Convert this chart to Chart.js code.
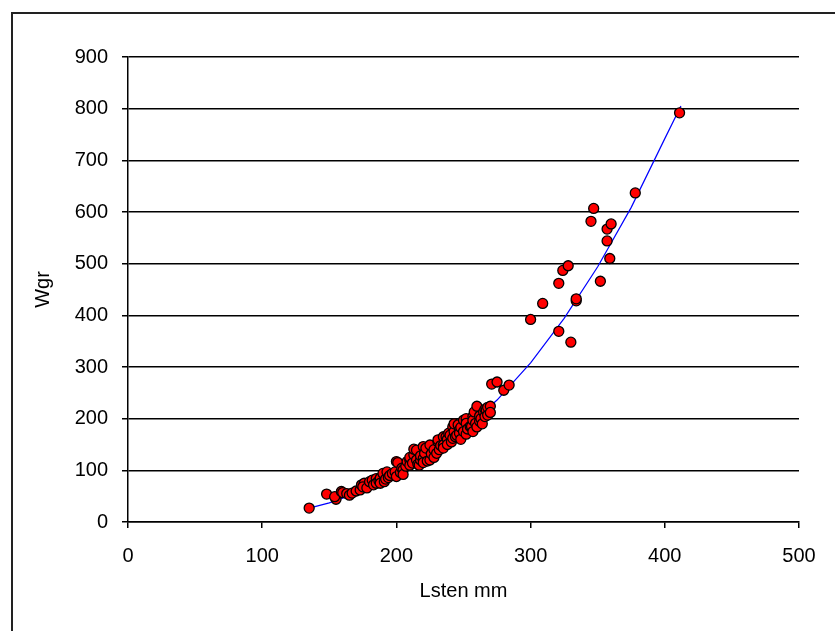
<!DOCTYPE html>
<html>
<head>
<meta charset="utf-8">
<script src="https://cdn.jsdelivr.net/npm/chart.js@4/dist/chart.umd.min.js"></script>
<style>
  html, body { margin: 0; padding: 0; background: #fff; overflow: hidden; }
  #wrap { position: relative; width: 835px; height: 631px; }
  #frame { position: absolute; left: 11px; top: 12px; width: 900px; height: 700px;
           border: 2px solid #222; box-sizing: border-box; }
  canvas { position: absolute; left: 0; top: 0; }
</style>
</head>
<body>
<div id="wrap">
  <div id="frame"></div>
  <canvas id="chart" width="835" height="631"></canvas>
</div>
<script>
'use strict';

// Observed fish: standard length (mm) and weight (g)
const lengthMm = [
  135, 148, 155, 154, 159, 160, 163, 165, 167, 170, 173, 174, 176, 175, 178, 180,
  182, 183, 185, 185, 187, 188, 188, 190, 191, 192, 193, 194, 195, 197, 199, 200,
  200, 201, 203, 204, 205, 205, 207, 208, 210, 210, 210, 212, 213, 213, 215, 215,
  216, 217, 218, 218, 220, 220, 220, 221, 222, 223, 225, 225, 226, 228, 228, 230,
  231, 231, 232, 233, 235, 235, 235, 237, 238, 238, 239, 240, 241, 242, 242, 243,
  243, 244, 245, 246, 247, 247, 248, 248, 250, 250, 252, 252, 252, 253, 255, 256,
  257, 257, 257, 258, 259, 260, 260, 262, 262, 263, 264, 265, 266, 266, 267, 268,
  268, 270, 270, 271, 275, 280, 284, 300, 309, 321, 321, 324, 328, 330, 334, 334,
  345, 347, 352, 357, 357, 359, 360, 378, 411,
];
const weightGr = [
  27, 54, 44, 49, 59, 57, 55, 52, 56, 60, 62, 72, 75, 68, 66, 78,
  81, 72, 84, 75, 80, 85, 75, 94, 78, 83, 97, 86, 90, 94, 97, 88,
  117, 115, 96, 104, 101, 92, 108, 117, 120, 110, 125, 114, 130, 141, 139, 120,
  112, 110, 120, 128, 123, 146, 115, 133, 143, 118, 149, 120, 132, 140, 125, 133,
  155, 159, 140, 148, 165, 149, 143, 165, 160, 150, 172, 168, 155, 184, 162, 175,
  190, 165, 168, 188, 178, 172, 183, 160, 197, 175, 200, 191, 170, 180, 185, 185,
  204, 175, 197, 213, 191, 224, 184, 195, 205, 200, 190, 213, 204, 218, 217, 207,
  222, 224, 212, 267, 271, 255, 265, 392, 423, 462, 369, 487, 496, 348, 428, 432,
  582, 607, 466, 544, 567, 510, 577, 637, 792,
];

// Fitted length-weight curve
const trendLength = [135, 150, 175, 200, 225, 250, 275, 300, 325, 350, 375, 400, 412];
const trendWeight = [27, 37, 60, 90, 128, 177, 236, 308, 394, 494, 609, 742, 805];

const xTicks = [0, 100, 200, 300, 400, 500];
const yTicks = [0, 100, 200, 300, 400, 500, 600, 700, 800, 900];

const FONT = { family: '"Liberation Sans", Arial, sans-serif', size: 20 };

const points = lengthMm.map((x, i) => ({ x, y: weightGr[i] }));
const trend = trendLength.map((x, i) => ({ x, y: trendWeight[i] }));

const ctx = document.getElementById('chart').getContext('2d');
// eslint-disable-next-line no-new
new Chart(ctx, {
  type: 'scatter',
  data: {
    datasets: [
      {
        label: 'Wgr',
        data: points,
        backgroundColor: '#ff0000',
        borderColor: '#000000',
        borderWidth: 1.3,
        pointRadius: 5,
        order: 1,
      },
      {
        type: 'line',
        label: 'Trend',
        data: trend,
        borderColor: '#0000ff',
        borderWidth: 1.2,
        pointRadius: 0,
        fill: false,
        tension: 0,
        order: 2,
      },
    ],
  },
  options: {
    responsive: false,
    animation: false,
    layout: { padding: { top: 57, right: 36, left: 0, bottom: 0 } },
    plugins: {
      legend: { display: false },
      tooltip: { enabled: false },
    },
    scales: {
      x: {
        type: 'linear',
        min: xTicks[0],
        max: xTicks[xTicks.length - 1],
        afterFit: (s) => { s.height = 109; },
        afterBuildTicks: (s) => { s.ticks = xTicks.map(v => ({ value: v })); },
        ticks: { color: '#000', font: FONT, padding: 16, maxRotation: 0 },
        grid: { drawOnChartArea: false, drawTicks: true, tickLength: 6, color: '#000', lineWidth: 1.5 },
        border: { display: true, color: '#000', width: 1.5 },
        title: { display: true, text: 'Lsten mm', color: '#000', font: FONT, padding: { top: 0, bottom: 28 } },
      },
      y: {
        type: 'linear',
        min: yTicks[0],
        max: yTicks[yTicks.length - 1],
        afterFit: (s) => { s.width = 128; },
        afterBuildTicks: (s) => { s.ticks = yTicks.map(v => ({ value: v })); },
        ticks: { color: '#000', font: FONT, padding: 14 },
        grid: { drawOnChartArea: true, drawTicks: true, tickLength: 6, color: '#000', lineWidth: 1.5 },
        border: { display: true, color: '#000', width: 1.5 },
        title: { display: true, text: 'Wgr', color: '#000', font: FONT, padding: { top: 31, bottom: 0 } },
      },
    },
  },
});
</script>
</body>
</html>
